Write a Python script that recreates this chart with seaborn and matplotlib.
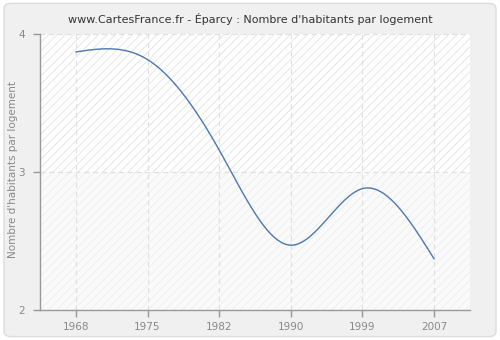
import numpy as np
import pandas as pd
import matplotlib
matplotlib.use("Agg")
import matplotlib.pyplot as plt
import seaborn as sns
from matplotlib.patches import FancyBboxPatch

years = [1968, 1975, 1982, 1990, 1999, 2007]
values = [3.87, 3.815, 3.16, 2.47, 2.88, 2.37]
year_labels = ["1968", "1975", "1982", "1990", "1999", "2007"]
y_ticks = [2, 3, 4]
title = "www.CartesFrance.fr - Éparcy : Nombre d'habitants par logement"
ylabel = "Nombre d'habitants par logement"


def natural_spline(x, y, n=400):
    x = np.asarray(x, float)
    y = np.asarray(y, float)
    k = len(x)
    h = np.diff(x)
    A = np.zeros((k, k))
    b = np.zeros(k)
    A[0, 0] = 1
    A[-1, -1] = 1
    for i in range(1, k - 1):
        A[i, i - 1] = h[i - 1]
        A[i, i] = 2 * (h[i - 1] + h[i])
        A[i, i + 1] = h[i]
        b[i] = 3 * ((y[i + 1] - y[i]) / h[i] - (y[i] - y[i - 1]) / h[i - 1])
    c = np.linalg.solve(A, b)
    xs = np.linspace(x[0], x[-1], n)
    ys = np.empty_like(xs)
    for j, xv in enumerate(xs):
        i = min(np.searchsorted(x, xv, side="right") - 1, k - 2)
        dx = xv - x[i]
        bi = (y[i + 1] - y[i]) / h[i] - h[i] * (2 * c[i] + c[i + 1]) / 3
        di = (c[i + 1] - c[i]) / (3 * h[i])
        ys[j] = y[i] + bi * dx + c[i] * dx ** 2 + di * dx ** 3
    return xs, ys


sns.set_theme(style="white")
plt.rcParams["font.family"] = ["DejaVu Sans"]
plt.rcParams["hatch.linewidth"] = 0.6

fig = plt.figure(figsize=(5, 3.4), dpi=100)
fig.patch.set_facecolor("#ffffff")
border = FancyBboxPatch((0.008, 0.01), 0.984, 0.98, boxstyle="round,pad=0,rounding_size=0.015",
                        transform=fig.transFigure, facecolor="#f0f0f0", edgecolor="#dcdcdc",
                        linewidth=1.0, zorder=-10)
fig.patches.append(border)

ax = fig.add_axes([0.08, 0.088, 0.86, 0.812])
ax.set_facecolor("#ffffff")

ax.axhspan(3, 4, facecolor="#ffffff", edgecolor="#e2e2e2", hatch="////", linewidth=0, zorder=0)
ax.axhspan(2, 3, facecolor="#fafafa", edgecolor="#ededed", hatch="////", linewidth=0, zorder=0)

# categorical (equally spaced) x positions
pos = np.arange(len(years))
xs, ys = natural_spline(pos, values)
df = pd.DataFrame({"pos": xs, "value": ys})
sns.lineplot(data=df, x="pos", y="value", ax=ax, color="#4a78b0", linewidth=1.0, zorder=3)

ax.set_xlim(-0.5, len(years) - 0.5)
ax.set_ylim(2, 4)
ax.set_xticks(pos)
ax.set_xticklabels(year_labels)
ax.set_yticks(y_ticks)
ax.set_yticklabels([str(t) for t in y_ticks])

ax.grid(True, color="#e0e0e0", linestyle=(0, (4, 3)), linewidth=0.9)
for gl in ax.get_xgridlines() + ax.get_ygridlines():
    gl.set_zorder(1)

for s in ["top", "right"]:
    ax.spines[s].set_visible(False)
for s in ["left", "bottom"]:
    ax.spines[s].set_color("#999999")
    ax.spines[s].set_linewidth(1.0)

ax.tick_params(axis="both", colors="#999999", labelcolor="#888888", labelsize=7.5,
               length=5, width=1, direction="out", left=True, bottom=True)
ax.tick_params(axis="y", pad=6)

ax.set_xlabel("")
ax.set_ylabel("")
fig.text(0.027, 0.5, ylabel, rotation=90, ha="center", va="center", fontsize=7.5, color="#888888")
fig.text(0.5, 0.945, title, ha="center", va="center", fontsize=8, color="#333333")

fig.savefig("out.png", dpi=100, facecolor=fig.get_facecolor())
